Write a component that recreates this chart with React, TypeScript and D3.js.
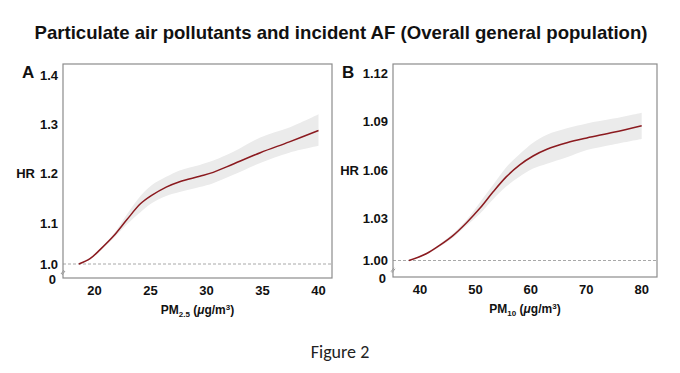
import React from "react";
import * as d3 from "d3";

const titleText = "Particulate air pollutants and incident AF (Overall general population)";

// Panel A: PM2.5
const pmA = [18.6, 19.6, 20.5, 21.7, 22.9, 24.1, 25.1, 26.4, 27.6, 29.4, 30.6, 32.4, 34.8, 37.4, 40.0];
const hrA = [1.0, 1.013, 1.035, 1.068, 1.107, 1.139, 1.156, 1.173, 1.184, 1.195, 1.203, 1.22, 1.243, 1.265, 1.288];
const loA = [1.0, 1.011, 1.032, 1.063, 1.097, 1.122, 1.14, 1.155, 1.163, 1.173, 1.181, 1.198, 1.222, 1.243, 1.257];
const hiA = [1.0, 1.015, 1.038, 1.073, 1.118, 1.155, 1.177, 1.194, 1.207, 1.218, 1.227, 1.245, 1.274, 1.294, 1.321];
const xTicksA = [20, 25, 30, 35, 40];
const yTicksA = [1.0, 1.1, 1.2, 1.3, 1.4];
const yLabelsA = ["1.0", "1.1", "1.2", "1.3", "1.4"];

// Panel B: PM10
const pmB = [38.0, 41.2, 43.6, 46.0, 48.4, 50.8, 53.2, 55.6, 58.0, 60.4, 62.9, 66.5, 70.1, 74.9, 80.0];
const hrB = [1.0, 1.005, 1.011, 1.018, 1.027, 1.0363, 1.0466, 1.056, 1.0633, 1.0688, 1.073, 1.077, 1.08, 1.0835, 1.0876];
const loB = [1.0, 1.0045, 1.01, 1.0165, 1.025, 1.033, 1.042, 1.05, 1.056, 1.061, 1.064, 1.068, 1.0725, 1.076, 1.0794];
const hiB = [1.0, 1.0055, 1.012, 1.0195, 1.029, 1.04, 1.051, 1.062, 1.07, 1.077, 1.082, 1.086, 1.089, 1.092, 1.0957];
const xTicksB = [40, 50, 60, 70, 80];
const yTicksB = [1.0, 1.03, 1.06, 1.09, 1.12];
const yLabelsB = ["1.00", "1.03", "1.06", "1.09", "1.12"];

type PanelProps = {
  letter: string;
  letterX: number;
  hrX: number;
  hrTick: number;
  left: number; right: number; top: number; bottom: number;
  xDomain: [number, number];
  xRange: [number, number];
  yDomain: number[];
  yRange: number[];
  xs: number[]; hr: number[]; lo: number[]; hi: number[];
  xTicks: number[]; yTicks: number[]; yLabels: string[];
  sub: string;
};

function Panel(p: PanelProps) {
  const x = d3.scaleLinear().domain(p.xDomain).range(p.xRange);
  const y = d3.scaleLinear().domain(p.yDomain).range(p.yRange);
  const idx = p.xs.map((_, i) => i);
  const curve = d3.curveCatmullRom.alpha(0.5);
  const area = d3.area<number>()
    .x((i) => x(p.xs[i]))
    .y0((i) => y(p.lo[i]))
    .y1((i) => y(p.hi[i]))
    .curve(curve);
  const line = d3.line<number>()
    .x((i) => x(p.xs[i]))
    .y((i) => y(p.hr[i]))
    .curve(curve);
  const labelX = p.left - 5;
  const font = "'Liberation Sans', Arial, sans-serif";
  const y1 = y(1.0);
  const cx = (p.left + p.right) / 2;
  const by = (y1 + p.bottom) / 2 + 1;
  return (
    <g fontFamily={font}>
      <path d={area(idx) || ""} fill="#ebebeb" />
      <line x1={p.left} x2={p.right} y1={y1} y2={y1} stroke="#a8a8a8" strokeWidth={1} strokeDasharray="3,2" />
      <path d={line(idx) || ""} fill="none" stroke="#8b1a1f" strokeWidth={1.5} />
      <rect x={p.left} y={p.top} width={p.right - p.left} height={p.bottom - p.top} fill="none" stroke="#8c8c8c" strokeWidth={1.2} />
      {/* axis break */}
      <line x1={p.left - 2} x2={p.left + 1} y1={by + 2} y2={by - 2} stroke="#999" strokeWidth={1} />
      <line x1={p.left - 1} x2={p.left + 2} y1={by + 3} y2={by - 1} stroke="#999" strokeWidth={1} />
      {p.yTicks.map((t, i) => (
        <text key={t} x={labelX} y={y(t)} dy="0.35em" textAnchor="end" fontSize={13} fontWeight="bold" fill="#111">{p.yLabels[i]}</text>
      ))}
      <text x={labelX - 2} y={p.bottom + 1} dy="0.35em" textAnchor="end" fontSize={13} fontWeight="bold" fill="#111">0</text>
      {p.xTicks.map((t) => (
        <text key={t} x={x(t)} y={p.bottom + 17} textAnchor="middle" fontSize={13} fontWeight="bold" fill="#111">{t}</text>
      ))}
      <text x={cx} y={p.bottom + 36} textAnchor="middle" fontSize={12} fontWeight="bold" fill="#111">
        PM<tspan fontSize={8} dy={3}>{p.sub}</tspan><tspan dy={-3}> (</tspan><tspan fontStyle="italic">μ</tspan>g/m<tspan fontSize={8} dy={-4}>3</tspan><tspan dy={4}>)</tspan>
      </text>
      <text x={p.hrX} y={y(p.hrTick)} dy="0.35em" textAnchor="end" fontSize={13} fontWeight="bold" fill="#111">HR</text>
      <text x={p.letterX} y={78} textAnchor="start" fontSize={17} fontWeight="bold" fill="#111">{p.letter}</text>
    </g>
  );
}

export default function App() {
  return (
    <svg width={680} height={373} style={{ position: "absolute", left: 0, top: 0, background: "#fff" }}>
      <rect width={680} height={373} fill="#fff" />
      <text x={341} y={39} textAnchor="middle" fontFamily="'Liberation Sans', Arial, sans-serif" fontWeight="bold" fontSize={18.6} fill="#111">{titleText}</text>
      <Panel letter="A" letterX={22} hrX={35} hrTick={1.2} left={63} right={332} top={64} bottom={278}
        xDomain={[20, 40]} xRange={[94.5, 318.5]}
        yDomain={[1.0, 1.1, 1.4]} yRange={[264, 223, 75.5]}
        xs={pmA} hr={hrA} lo={loA} hi={hiA}
        xTicks={xTicksA} yTicks={yTicksA} yLabels={yLabelsA} sub="2.5" />
      <Panel letter="B" letterX={342} hrX={359} hrTick={1.06} left={393} right={657} top={64} bottom={277}
        xDomain={[40, 80]} xRange={[420, 641.7]}
        yDomain={[1.0, 1.03, 1.12]} yRange={[260.5, 218.5, 73.5]}
        xs={pmB} hr={hrB} lo={loB} hi={hiB}
        xTicks={xTicksB} yTicks={yTicksB} yLabels={yLabelsB} sub="10" />
      <text x={340} y={358} textAnchor="middle" fontFamily="Carlito, 'Liberation Sans', Arial, sans-serif" fontSize={18} fill="#222">Figure 2</text>
    </svg>
  );
}
